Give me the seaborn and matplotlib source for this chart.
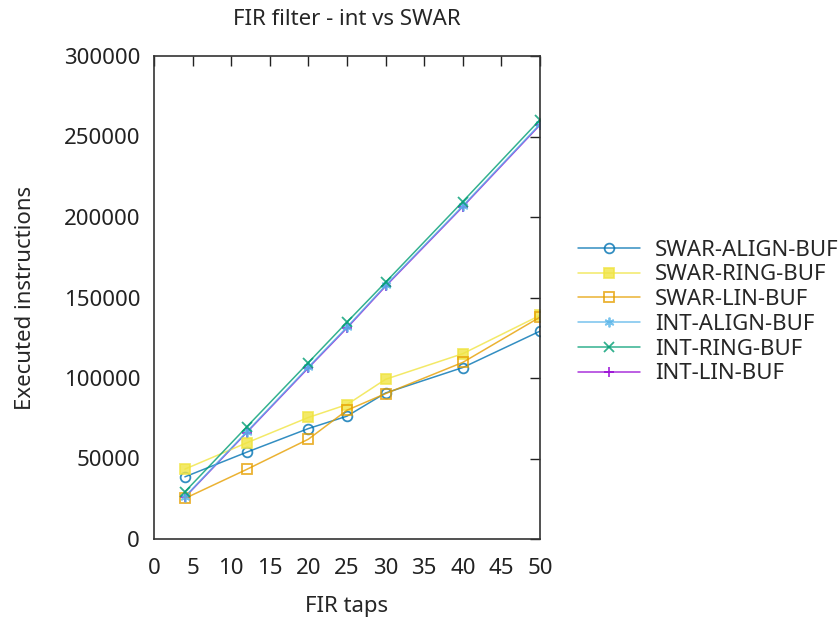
import numpy as np
import pandas as pd
import seaborn as sns
import matplotlib.pyplot as plt

# FIR taps
taps = [4, 12, 20, 25, 30, 40, 50]

# executed instructions
swar_align = [38600, 53900, 68600, 76300, 90700, 106500, 129100]
swar_ring = [43400, 59700, 75500, 83500, 99200, 115100, 138900]
swar_lin = [25200, 43200, 62000, 80000, 90300, 109700, 137800]
int_align = [26200, 66500, 106800, 131600, 157500, 206900, 257700]
int_ring = [29300, 69600, 109600, 134700, 159500, 209600, 260400]
int_lin = [25900, 66100, 106300, 131100, 157000, 206400, 257200]

names = ['SWAR-ALIGN-BUF', 'SWAR-RING-BUF', 'SWAR-LIN-BUF',
         'INT-ALIGN-BUF', 'INT-RING-BUF', 'INT-LIN-BUF']
values = [swar_align, swar_ring, swar_lin, int_align, int_ring, int_lin]

# gnuplot default line colours
colors = ['#0072b2', '#f0e442', '#e69f00', '#56b4e9', '#009e73', '#9400d3']
markers = ['o', 's', 's', (6, 2, 0), 'x', '+']
filled = [False, True, False, True, True, True]

sns.set_style('white')
plt.rcParams['font.family'] = ['Noto Sans', 'DejaVu Sans']

fig = plt.figure(figsize=(8.4, 6.17), dpi=100)
ax = fig.add_axes([154 / 840, 1 - 539 / 617, 386 / 840, 483 / 617])

# INT-LIN sits almost exactly under INT-ALIGN, so draw it first
for i in [5, 0, 1, 2, 3, 4]:
    df = pd.DataFrame({'taps': taps, 'instr': values[i]})
    sns.lineplot(data=df, x='taps', y='instr', ax=ax, color=colors[i],
                 marker=markers[i], markersize=7, linewidth=1.1,
                 markeredgecolor=colors[i], markeredgewidth=1.3,
                 markerfacecolor=colors[i] if filled[i] else 'none',
                 label=names[i], alpha=0.8)

ax.set_xlim(0, 50)
ax.set_ylim(0, 300000)
ax.set_xticks(np.arange(0, 51, 5))
ax.set_yticks(np.arange(0, 300001, 50000))
ax.ticklabel_format(axis='y', style='plain')
ax.tick_params(direction='in', length=7, width=1, labelsize=16,
               top=True, right=True, colors='#222222')
ax.tick_params(axis='x', pad=14)
ax.tick_params(axis='y', pad=10)
for s in ax.spines.values():
    s.set_color('#333333')
    s.set_linewidth(1.2)

ax.set_xlabel('FIR taps', fontsize=16, labelpad=12)
ax.set_ylabel('Executed instructions', fontsize=16, labelpad=20)
ax.set_title('FIR filter - int vs SWAR', fontsize=16, pad=22)

handles, labels = ax.get_legend_handles_labels()
lookup = dict(zip(labels, handles))
ax.legend([lookup[n] for n in names], names, loc='center left',
          bbox_to_anchor=(1.075, 0.47), frameon=False, fontsize=16,
          handlelength=2.8, labelspacing=0.17, handletextpad=0.68,
          borderaxespad=0)

fig.savefig('out.png', dpi=100)
